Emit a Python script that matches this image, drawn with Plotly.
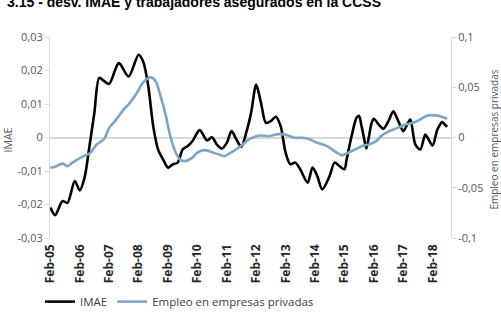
import plotly.graph_objects as go

# Months counted from Feb-2005 and values
imae_months = [0, 2, 5, 7, 10, 12, 14, 16, 18, 20, 22, 24, 28, 32, 36, 38, 40, 42, 44, 46,
               48, 50, 52, 54, 56, 58, 61, 64, 66, 68, 70, 72, 74, 76, 78, 80, 82, 84, 86, 88,
               90, 92, 94, 96, 98, 100, 102, 105, 107, 109, 111, 114, 116, 118, 120, 121, 123,
               125, 126, 127, 128, 129, 130, 131, 132, 134, 136, 138, 140, 142, 144, 146, 147,
               149, 151, 153, 154, 156, 158, 160, 161, 162]
imae_values = [-0.0209, -0.0232, -0.0190, -0.0195, -0.0130, -0.0158, -0.0120, -0.0026, 0.0074,
               0.0178, 0.0168, 0.0160, 0.0222, 0.0182, 0.0247, 0.0225, 0.0153, 0.0034, -0.0036,
               -0.0065, -0.0090, -0.0080, -0.0075, -0.0036, -0.0026, -0.0011, 0.0022, -0.0009,
               0.0001, -0.0021, -0.0033, -0.0016, 0.0019, -0.0006, -0.0028, 0.0015, 0.0075,
               0.0158, 0.0103, 0.0044, 0.0049, 0.0062, 0.0034, -0.0046, -0.0080, -0.0075,
               -0.0095, -0.0135, -0.0090, -0.0115, -0.0155, -0.0115, -0.0075, -0.0085, -0.0095,
               -0.0065, 0.0004, 0.0059, 0.0065, 0.0035, 0.0000, -0.0033, 0.0000, 0.0040, 0.0056,
               0.0039, 0.0026, 0.0049, 0.0078, 0.0049, 0.0019, 0.0044, 0.0054, -0.0021, -0.0036,
               0.0009, -0.0001, -0.0024, 0.0024, 0.0046, 0.0039, 0.0032]

empleo_months = [0, 2, 5, 7, 9, 11, 14, 16, 19, 22, 24, 27, 30, 32, 35, 38, 41, 43, 45, 47,
                 49, 51, 53, 55, 58, 60, 63, 66, 69, 71, 74, 77, 80, 81, 84, 86, 89, 92, 94, 97,
                 100, 103, 106, 109, 113, 116, 119, 121, 122, 125, 128, 130, 133, 135, 137, 140,
                 143, 145, 148, 151, 154, 157, 160, 162]
empleo_values = [-0.030, -0.029, -0.026, -0.0285, -0.025, -0.022, -0.018, -0.016, -0.007,
                 -0.0013, 0.0096, 0.018, 0.028, 0.033, 0.043, 0.055, 0.060, 0.056, 0.041, 0.023,
                 0.0013, -0.0136, -0.022, -0.0235, -0.020, -0.015, -0.0126, -0.0146, -0.017,
                 -0.0185, -0.0146, -0.010, -0.004, -0.002, 0.0013, 0.002, 0.0013, 0.003, 0.0036,
                 0.002, -0.0003, -0.0003, -0.002, -0.0053, -0.0086, -0.0136, -0.0175, -0.016,
                 -0.0146, -0.0113, -0.0076, -0.007, -0.0036, 0.0013, 0.0046, 0.008, 0.011, 0.013,
                 0.0146, 0.018, 0.022, 0.022, 0.0205, 0.0186]

year_ticks = ["2005-02-01", "2006-02-01", "2007-02-01", "2008-02-01", "2009-02-01", "2010-02-01",
              "2011-02-01", "2012-02-01", "2013-02-01", "2014-02-01", "2015-02-01", "2016-02-01",
              "2017-02-01", "2018-02-01"]
year_labels = ["Feb-05", "Feb-06", "Feb-07", "Feb-08", "Feb-09", "Feb-10", "Feb-11",
               "Feb-12", "Feb-13", "Feb-14", "Feb-15", "Feb-16", "Feb-17", "Feb-18"]

left_ticks = [0.03, 0.02, 0.01, 0, -0.01, -0.02, -0.03]
left_labels = ["0,03", "0,02", "0,01", "0", "-0,01", "-0,02", "-0,03"]
right_ticks = [0.1, 0.05, 0, -0.05, -0.1]
right_labels = ["0,1", "0,05", "0", "-0,05", "-0,1"]


def month_to_date(m):
    y = 2005 + (1 + m) // 12
    mo = (1 + m) % 12 + 1
    return f"{y:04d}-{mo:02d}-01"


imae_dates = [month_to_date(m) for m in imae_months]
empleo_dates = [month_to_date(m) for m in empleo_months]

FONT = "Open Sans"
fig = go.Figure()
fig.add_trace(go.Scatter(x=imae_dates, y=imae_values, name="IMAE", mode="lines",
                         line=dict(color="#000000", width=2.6, shape="spline", smoothing=0.8),
                         yaxis="y"))
fig.add_trace(go.Scatter(x=empleo_dates, y=empleo_values, name="Empleo en empresas privadas",
                         mode="lines",
                         line=dict(color="#7AA6C7", width=2.6, shape="spline", smoothing=0.8),
                         yaxis="y2"))

axis_gray = "#d9d9d9"
fig.update_layout(
    width=501, height=327,
    margin=dict(l=50, r=50, t=37, b=88),
    paper_bgcolor="white", plot_bgcolor="white",
    font=dict(family=FONT, size=11, color="#595959"),
    showlegend=True,
    legend=dict(orientation="h", x=-0.025, xanchor="left", y=-0.31, yanchor="middle",
                font=dict(family=FONT, size=11.5, color="#404040"), bgcolor="rgba(0,0,0,0)",
                itemwidth=30),
    xaxis=dict(type="date", range=["2005-01-27", "2018-09-17"], tickmode="array",
               tickvals=year_ticks, ticktext=year_labels, tickangle=-90,
               tickfont=dict(family=FONT, size=12, color="#262626", weight="bold"),
               ticklabelstandoff=3,
               showgrid=False, showline=False, ticks="", zeroline=False),
    yaxis=dict(range=[-0.03, 0.03], tickmode="array", tickvals=left_ticks, ticktext=left_labels,
               showgrid=False, showline=True, linecolor=axis_gray, ticks="outside", ticklen=4,
               tickcolor=axis_gray, zeroline=True, zerolinecolor=axis_gray, zerolinewidth=1.5,
               tickfont=dict(family=FONT, size=11, color="#595959")),
    yaxis2=dict(range=[-0.1, 0.1], overlaying="y", side="right", tickmode="array",
                tickvals=right_ticks, ticktext=right_labels, showgrid=False, showline=True,
                linecolor=axis_gray, ticks="outside", ticklen=4, tickcolor=axis_gray,
                zeroline=False, tickfont=dict(family=FONT, size=11, color="#595959")),
    annotations=[
        dict(text="3.15 - desv. IMAE y trabajadores asegurados en la CCSS", xref="paper",
             yref="paper", x=-0.112, y=1.175, xanchor="left", yanchor="middle", showarrow=False,
             font=dict(family="Liberation Sans", size=14, color="#000000", weight="bold")),
        dict(text="IMAE", xref="paper", yref="paper", x=-0.105, y=0.49, textangle=-90,
             xanchor="center", yanchor="middle", showarrow=False,
             font=dict(family=FONT, size=10.5, color="#595959")),
        dict(text="Empleo en empresas privadas", xref="paper", yref="paper", x=1.105, y=0.49,
             textangle=-90, xanchor="center", yanchor="middle", showarrow=False,
             font=dict(family=FONT, size=10, color="#595959")),
    ],
)

fig.write_html("out.html")
